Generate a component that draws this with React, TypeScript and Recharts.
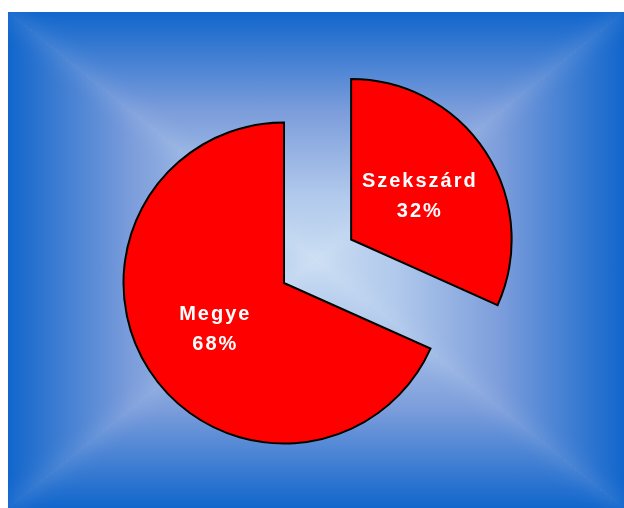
import React from "react";
import { PieChart, Pie, Cell } from "recharts";

const names = ["Szekszárd", "Megye"];
const values = [31.7, 68.3];

const W = 616;
const H = 496;
const CX = 276;
const CY = 271;
const R = 160.5;
const EXPLODE = 80;
const RADIAN = Math.PI / 180;

var data = names.map(function (n, i) { return { name: n, value: values[i] }; });

// mid angle of the exploded slice (clockwise from 12 o'clock)
var total = values.reduce(function (a, b) { return a + b; }, 0);
var midA = 90 - (values[0] / total) * 180;
var exCx = CX + EXPLODE * Math.cos(midA * RADIAN);
var exCy = CY - EXPLODE * Math.sin(midA * RADIAN);

function makeLabel(showIndex: number) {
  return function (props: any) {
    if (props.index !== showIndex) return null;
    var r = props.outerRadius * 0.51;
    var x = props.cx + r * Math.cos(-props.midAngle * RADIAN);
    var y = props.cy + r * Math.sin(-props.midAngle * RADIAN);
    return (
      <text
        x={x}
        y={y - 7.5}
        textAnchor="middle"
        fill="#ffffff"
        fontFamily="'Liberation Sans', Arial, sans-serif"
        fontWeight="bold"
        fontSize={20}
        letterSpacing={2}
      >
        <tspan x={x}>{props.name}</tspan>
        <tspan x={x} dy={29.5}>{Math.round(props.percent * 100) + "%"}</tspan>
      </text>
    );
  };
}

function Background() {
  var cx = W / 2;
  var cy = H / 2;
  var stops = (
    <>
      <stop offset="0" stopColor="#1166cc" />
      <stop offset="0.4" stopColor="#7c9ddb" />
      <stop offset="0.75" stopColor="#b2caec" />
      <stop offset="1" stopColor="#c8dcf2" />
    </>
  );
  var tri = [
    { id: "bgTop", pts: "0,0 " + W + ",0 " + cx + "," + cy },
    { id: "bgBottom", pts: "0," + H + " " + W + "," + H + " " + cx + "," + cy },
    { id: "bgLeft", pts: "0,0 0," + H + " " + cx + "," + cy },
    { id: "bgRight", pts: W + ",0 " + W + "," + H + " " + cx + "," + cy },
  ];
  var corners = [[0, 0], [W, 0], [0, H], [W, H]];
  return (
    <svg width={W} height={H} style={{ position: "absolute", left: 0, top: 0, display: "block" }}>
      <defs>
        <linearGradient id="bgTop" x1="0" y1="0" x2="0" y2="1">{stops}</linearGradient>
        <linearGradient id="bgBottom" x1="0" y1="1" x2="0" y2="0">{stops}</linearGradient>
        <linearGradient id="bgLeft" x1="0" y1="0" x2="1" y2="0">{stops}</linearGradient>
        <linearGradient id="bgRight" x1="1" y1="0" x2="0" y2="0">{stops}</linearGradient>
        <filter id="soft" x="-10%" y="-10%" width="120%" height="120%">
          <feGaussianBlur stdDeviation="8" />
        </filter>
      </defs>
      {tri.map(function (t) {
        return (
          <polygon key={t.id} points={t.pts} fill={"url(#" + t.id + ")"}
            stroke={"url(#" + t.id + ")"} strokeWidth={1} />
        );
      })}
      <g filter="url(#soft)">
        {corners.map(function (c, i) {
          return (
            <line key={i} x1={c[0]} y1={c[1]} x2={cx} y2={cy}
              stroke="#ffffff" strokeOpacity={0.07} strokeWidth={16} />
          );
        })}
      </g>
    </svg>
  );
}

export default function App() {
  return (
    <div style={{ position: "fixed", left: 8, top: 12, width: W, height: H, overflow: "hidden" }}>
      <Background />
      <div style={{ position: "absolute", left: 0, top: 0 }}>
        <PieChart width={W} height={H} margin={{ top: 0, right: 0, bottom: 0, left: 0 }}>
          <Pie
            data={data}
            dataKey="value"
            nameKey="name"
            cx={CX}
            cy={CY}
            outerRadius={R}
            startAngle={90}
            endAngle={-270}
            label={makeLabel(1)}
            labelLine={false}
            isAnimationActive={false}
          >
            <Cell fill="none" stroke="none" />
            <Cell fill="#ff0000" stroke="#000000" strokeWidth={2} />
          </Pie>
          <Pie
            data={data}
            dataKey="value"
            nameKey="name"
            cx={exCx}
            cy={exCy}
            outerRadius={R}
            startAngle={90}
            endAngle={-270}
            label={makeLabel(0)}
            labelLine={false}
            isAnimationActive={false}
          >
            <Cell fill="#ff0000" stroke="#000000" strokeWidth={2} />
            <Cell fill="none" stroke="none" />
          </Pie>
        </PieChart>
      </div>
    </div>
  );
}
